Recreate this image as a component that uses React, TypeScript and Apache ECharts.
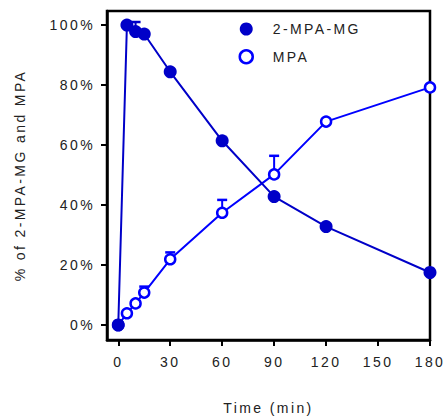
import React, { useEffect, useRef } from "react";
import * as echarts from "echarts";

const times = [0, 5, 10, 15, 30, 60, 90, 120, 180];
const mgValues = [0, 100, 97.8, 97, 84.4, 61.4, 42.8, 32.8, 17.5];
const mpaValues = [0, 3.9, 7.2, 10.8, 21.9, 37.4, 50.2, 67.8, 79.2];
const mgErrTimes = [10];
const mgErrUpper = [101];
const mpaErrTimes = [15, 30, 60, 90];
const mpaErrUpper = [12.8, 24.2, 41.7, 56.4];
const xTicks = [0, 30, 60, 90, 120, 150, 180];
const yTicks = [0, 20, 40, 60, 80, 100];

const MG_COLOR = "#0000C8";
const MPA_COLOR = "#0000FF";
const FONT = 'Arial, "Liberation Sans", sans-serif';
const TEXT_COLOR = "#222";

function errRender(color: string) {
  return (params: any, api: any) => {
    const x = api.value(0);
    const hi = api.value(1);
    const y = api.value(2);
    const p1 = api.coord([x, y]);
    const p2 = api.coord([x, hi]);
    return {
      type: "group",
      children: [
        {
          type: "line",
          shape: { x1: p1[0], y1: p1[1], x2: p2[0], y2: p2[1] },
          style: { stroke: color, lineWidth: 2 },
        },
        {
          type: "line",
          shape: { x1: p2[0] - 5, y1: p2[1], x2: p2[0] + 5, y2: p2[1] },
          style: { stroke: color, lineWidth: 2.5 },
        },
      ],
    };
  };
}

export default function App() {
  const ref = useRef<HTMLDivElement>(null);
  useEffect(() => {
    if (!ref.current) return;
    const chart = echarts.init(ref.current, undefined, { renderer: "svg" });
    const mgData = times.map((t, i) => [t, mgValues[i]]);
    const mpaData = times.map((t, i) => [t, mpaValues[i]]);
    const mgErr = mgErrTimes.map((t, i) => [t, mgErrUpper[i], mgValues[times.indexOf(t)]]);
    const mpaErr = mpaErrTimes.map((t, i) => [t, mpaErrUpper[i], mpaValues[times.indexOf(t)]]);
    chart.setOption({
      animation: false,
      textStyle: { fontFamily: FONT },
      grid: {
        left: 107,
        top: 11,
        width: 323,
        height: 329,
        show: true,
        borderColor: "#000",
        borderWidth: 2.5,
        backgroundColor: "transparent",
        containLabel: false,
        outerBoundsMode: "none",
      },
      legend: {
        orient: "vertical",
        left: 238.5,
        top: 22,
        padding: 0,
        itemWidth: 13,
        itemHeight: 13,
        itemGap: 13,
        textStyle: {
          fontSize: 14,
          color: TEXT_COLOR,
          fontFamily: FONT,
          padding: [0, 0, 0, 15],
        },
        data: [
          { name: "2-MPA-MG", icon: "circle", itemStyle: { color: MG_COLOR, borderWidth: 0 } },
          {
            name: "MPA",
            icon: "circle",
            itemStyle: { color: "#fff", borderColor: MPA_COLOR, borderWidth: 2.5 },
          },
        ],
      },
      xAxis: {
        type: "value",
        min: -6.5,
        max: 180,
        name: "Time (min)",
        nameLocation: "middle",
        nameGap: 61,
        nameTextStyle: { fontSize: 14, color: TEXT_COLOR, fontFamily: FONT },
        axisLine: { show: true, onZero: false, lineStyle: { color: "#000", width: 2.5 } },
        axisTick: {
          show: true,
          length: 6,
          customValues: xTicks,
          lineStyle: { color: "#000", width: 2 },
        },
        axisLabel: {
          customValues: xTicks,
          fontSize: 14,
          color: TEXT_COLOR,
          margin: 15,
          fontFamily: FONT,
        },
        splitLine: { show: false },
      },
      yAxis: {
        type: "value",
        min: -5,
        max: 104.67,
        name: "% of 2-MPA-MG and MPA",
        nameLocation: "middle",
        nameGap: 80,
        nameTextStyle: { fontSize: 14, color: TEXT_COLOR, fontFamily: FONT },
        axisLine: { show: true, onZero: false, lineStyle: { color: "#000", width: 2.5 } },
        axisTick: {
          show: true,
          length: 6,
          customValues: yTicks,
          lineStyle: { color: "#000", width: 2 },
        },
        axisLabel: {
          customValues: yTicks,
          fontSize: 14,
          color: TEXT_COLOR,
          margin: 12,
          fontFamily: FONT,
          formatter: (v: number) => `${v}%`,
        },
        splitLine: { show: false },
      },
      series: [
        {
          type: "custom",
          name: "mpaErr",
          renderItem: errRender(MPA_COLOR),
          data: mpaErr,
          z: 1,
          silent: true,
        },
        {
          type: "custom",
          name: "mgErr",
          renderItem: errRender(MG_COLOR),
          data: mgErr,
          z: 1,
          silent: true,
        },
        {
          type: "line",
          name: "MPA",
          data: mpaData,
          symbol: "circle",
          symbolSize: 10,
          showAllSymbol: true,
          lineStyle: { color: MPA_COLOR, width: 2 },
          itemStyle: { color: "#fff", borderColor: MPA_COLOR, borderWidth: 2.5 },
          z: 2,
        },
        {
          type: "line",
          name: "2-MPA-MG",
          data: mgData,
          symbol: "circle",
          symbolSize: 13,
          showAllSymbol: true,
          lineStyle: { color: MG_COLOR, width: 2 },
          itemStyle: { color: MG_COLOR, borderWidth: 0 },
          z: 3,
        },
      ],
    });
    return () => chart.dispose();
  }, []);
  return (
    <>
      <style>{`#chartbox text { letter-spacing: 2.4px; }`}</style>
      <div
        id="chartbox"
        ref={ref}
        style={{ position: "fixed", left: 0, top: 0, width: 446, height: 417, background: "#fff" }}
      />
    </>
  );
}
